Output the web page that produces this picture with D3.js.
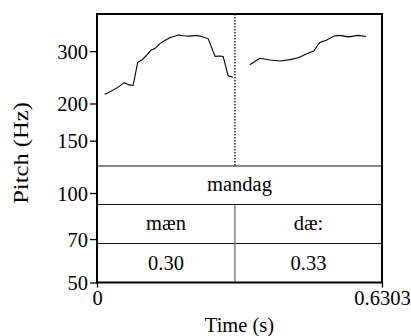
<!DOCTYPE html>
<html>
<head>
<meta charset="utf-8">
<script src="https://cdn.jsdelivr.net/npm/d3@7"></script>
<style>
  html, body { margin: 0; padding: 0; background: #fff; }
  text { font-family: "Liberation Serif", "Times New Roman", serif; fill: #000; }
</style>
</head>
<body>
<svg id="chart"></svg>
<script>
// pitch contour, two voiced stretches (time s, Hz)
const seg1Time = [0.017, 0.029, 0.047, 0.060, 0.071, 0.080, 0.090, 0.099, 0.110, 0.119, 0.128, 0.139, 0.150, 0.161, 0.180, 0.191, 0.205, 0.220, 0.231, 0.246, 0.261, 0.272, 0.279, 0.290, 0.301];
const seg1Hz   = [215, 219, 227, 235, 231, 230, 275, 280, 291, 302, 306, 318, 326, 333, 340, 338, 337, 339, 336, 330, 288, 289, 288, 248, 245];
const seg2Time = [0.338, 0.360, 0.383, 0.405, 0.427, 0.445, 0.464, 0.480, 0.492, 0.508, 0.526, 0.537, 0.556, 0.578, 0.595];
const seg2Hz   = [270, 284, 280, 278, 281, 285, 294, 301, 320, 327, 338, 339, 335, 339, 336];

const yTicks = [50, 70, 100, 150, 200, 300];
const xTickLabels = ["0", "0.6303"];
const totalDur = 0.6303;

// TextGrid tiers
const boundary = 0.305;
const wordTier = [{ start: 0, end: totalDur, label: "mandag" }];
const phoneTier = [{ start: 0, end: boundary, label: "mæn" }, { start: boundary, end: totalDur, label: "dæ:" }];
const durTier = [{ start: 0, end: boundary, label: "0.30" }, { start: boundary, end: totalDur, label: "0.33" }];

const W = 411, H = 336;
const pl = 97, pr = 382, pt = 14, pb = 282.5;
const tierTops = [166, 204.5, 243.5];
const fs = 20.5;

const svg = d3.select("#chart").attr("width", W).attr("height", H);

const x = d3.scaleLinear().domain([0, totalDur]).range([pl, pr]);
const y = d3.scaleLog().domain([50, 400]).range([pb, pt]);

// pitch curves
const line = d3.line().x(d => x(d[0])).y(d => y(d[1]));
[[seg1Time, seg1Hz], [seg2Time, seg2Hz]].forEach(([ts, hs]) => {
    svg.append("path")
        .datum(ts.map((t, i) => [t, hs[i]]))
        .attr("d", line)
        .attr("fill", "none")
        .attr("stroke", "#000")
        .attr("stroke-width", 1.1);
});

// dotted boundary across the pitch area
svg.append("line")
    .attr("x1", x(boundary)).attr("x2", x(boundary))
    .attr("y1", pt).attr("y2", tierTops[0])
    .attr("stroke", "#000")
    .attr("stroke-width", 1.3)
    .attr("stroke-dasharray", "1.5,1.5");

// tier separators
tierTops.forEach(ty => {
    svg.append("line")
        .attr("x1", pl).attr("x2", pr)
        .attr("y1", ty).attr("y2", ty)
        .attr("stroke", "#111")
        .attr("stroke-width", 1.2);
});

// boundaries inside lower tiers
svg.append("line")
    .attr("x1", x(boundary)).attr("x2", x(boundary))
    .attr("y1", tierTops[1]).attr("y2", pb)
    .attr("stroke", "#666")
    .attr("stroke-width", 1.2);

// tier labels
const tierBaselines = [191, 229.5, 269.5];
[wordTier, phoneTier, durTier].forEach((tier, k) => {
    svg.selectAll(null)
        .data(tier)
        .enter().append("text")
        .attr("x", d => x((d.start + d.end) / 2))
        .attr("y", tierBaselines[k])
        .attr("text-anchor", "middle")
        .style("font-size", fs + "px")
        .text(d => d.label);
});

// frame
svg.append("rect")
    .attr("x", pl).attr("y", pt)
    .attr("width", pr - pl).attr("height", pb - pt)
    .attr("fill", "none")
    .attr("stroke", "#000")
    .attr("stroke-width", 2);

// y axis
const yAxis = svg.append("g")
    .attr("transform", `translate(${pl},0)`)
    .call(d3.axisLeft(y).tickValues(yTicks).tickFormat(d3.format("d")).tickSize(7).tickPadding(2));
yAxis.select(".domain").remove();
yAxis.selectAll(".tick line").attr("stroke", "#000").attr("stroke-width", 1.3);
yAxis.selectAll(".tick text")
    .attr("dy", "0.35em")
    .style("font-family", '"Liberation Serif", serif')
    .style("font-size", fs + "px");

// x axis end labels
const xAxis = svg.append("g")
    .attr("transform", `translate(0,${pb})`)
    .call(d3.axisBottom(x).tickValues([0, totalDur]).tickFormat((d, i) => xTickLabels[i]).tickSize(5).tickPadding(3));
xAxis.select(".domain").remove();
xAxis.selectAll(".tick line").attr("stroke", "#000").attr("stroke-width", 1.3);
xAxis.selectAll(".tick text")
    .style("font-family", '"Liberation Serif", serif')
    .style("font-size", fs + "px");

svg.append("text")
    .attr("x", (pl + pr) / 2)
    .attr("y", 332)
    .attr("text-anchor", "middle")
    .style("font-size", fs + "px")
    .text("Time (s)");

svg.append("text")
    .attr("transform", `translate(28,153) rotate(-90) scale(1.2,1)`)
    .attr("text-anchor", "middle")
    .style("font-size", fs + "px")
    .text("Pitch (Hz)");
</script>
</body>
</html>
